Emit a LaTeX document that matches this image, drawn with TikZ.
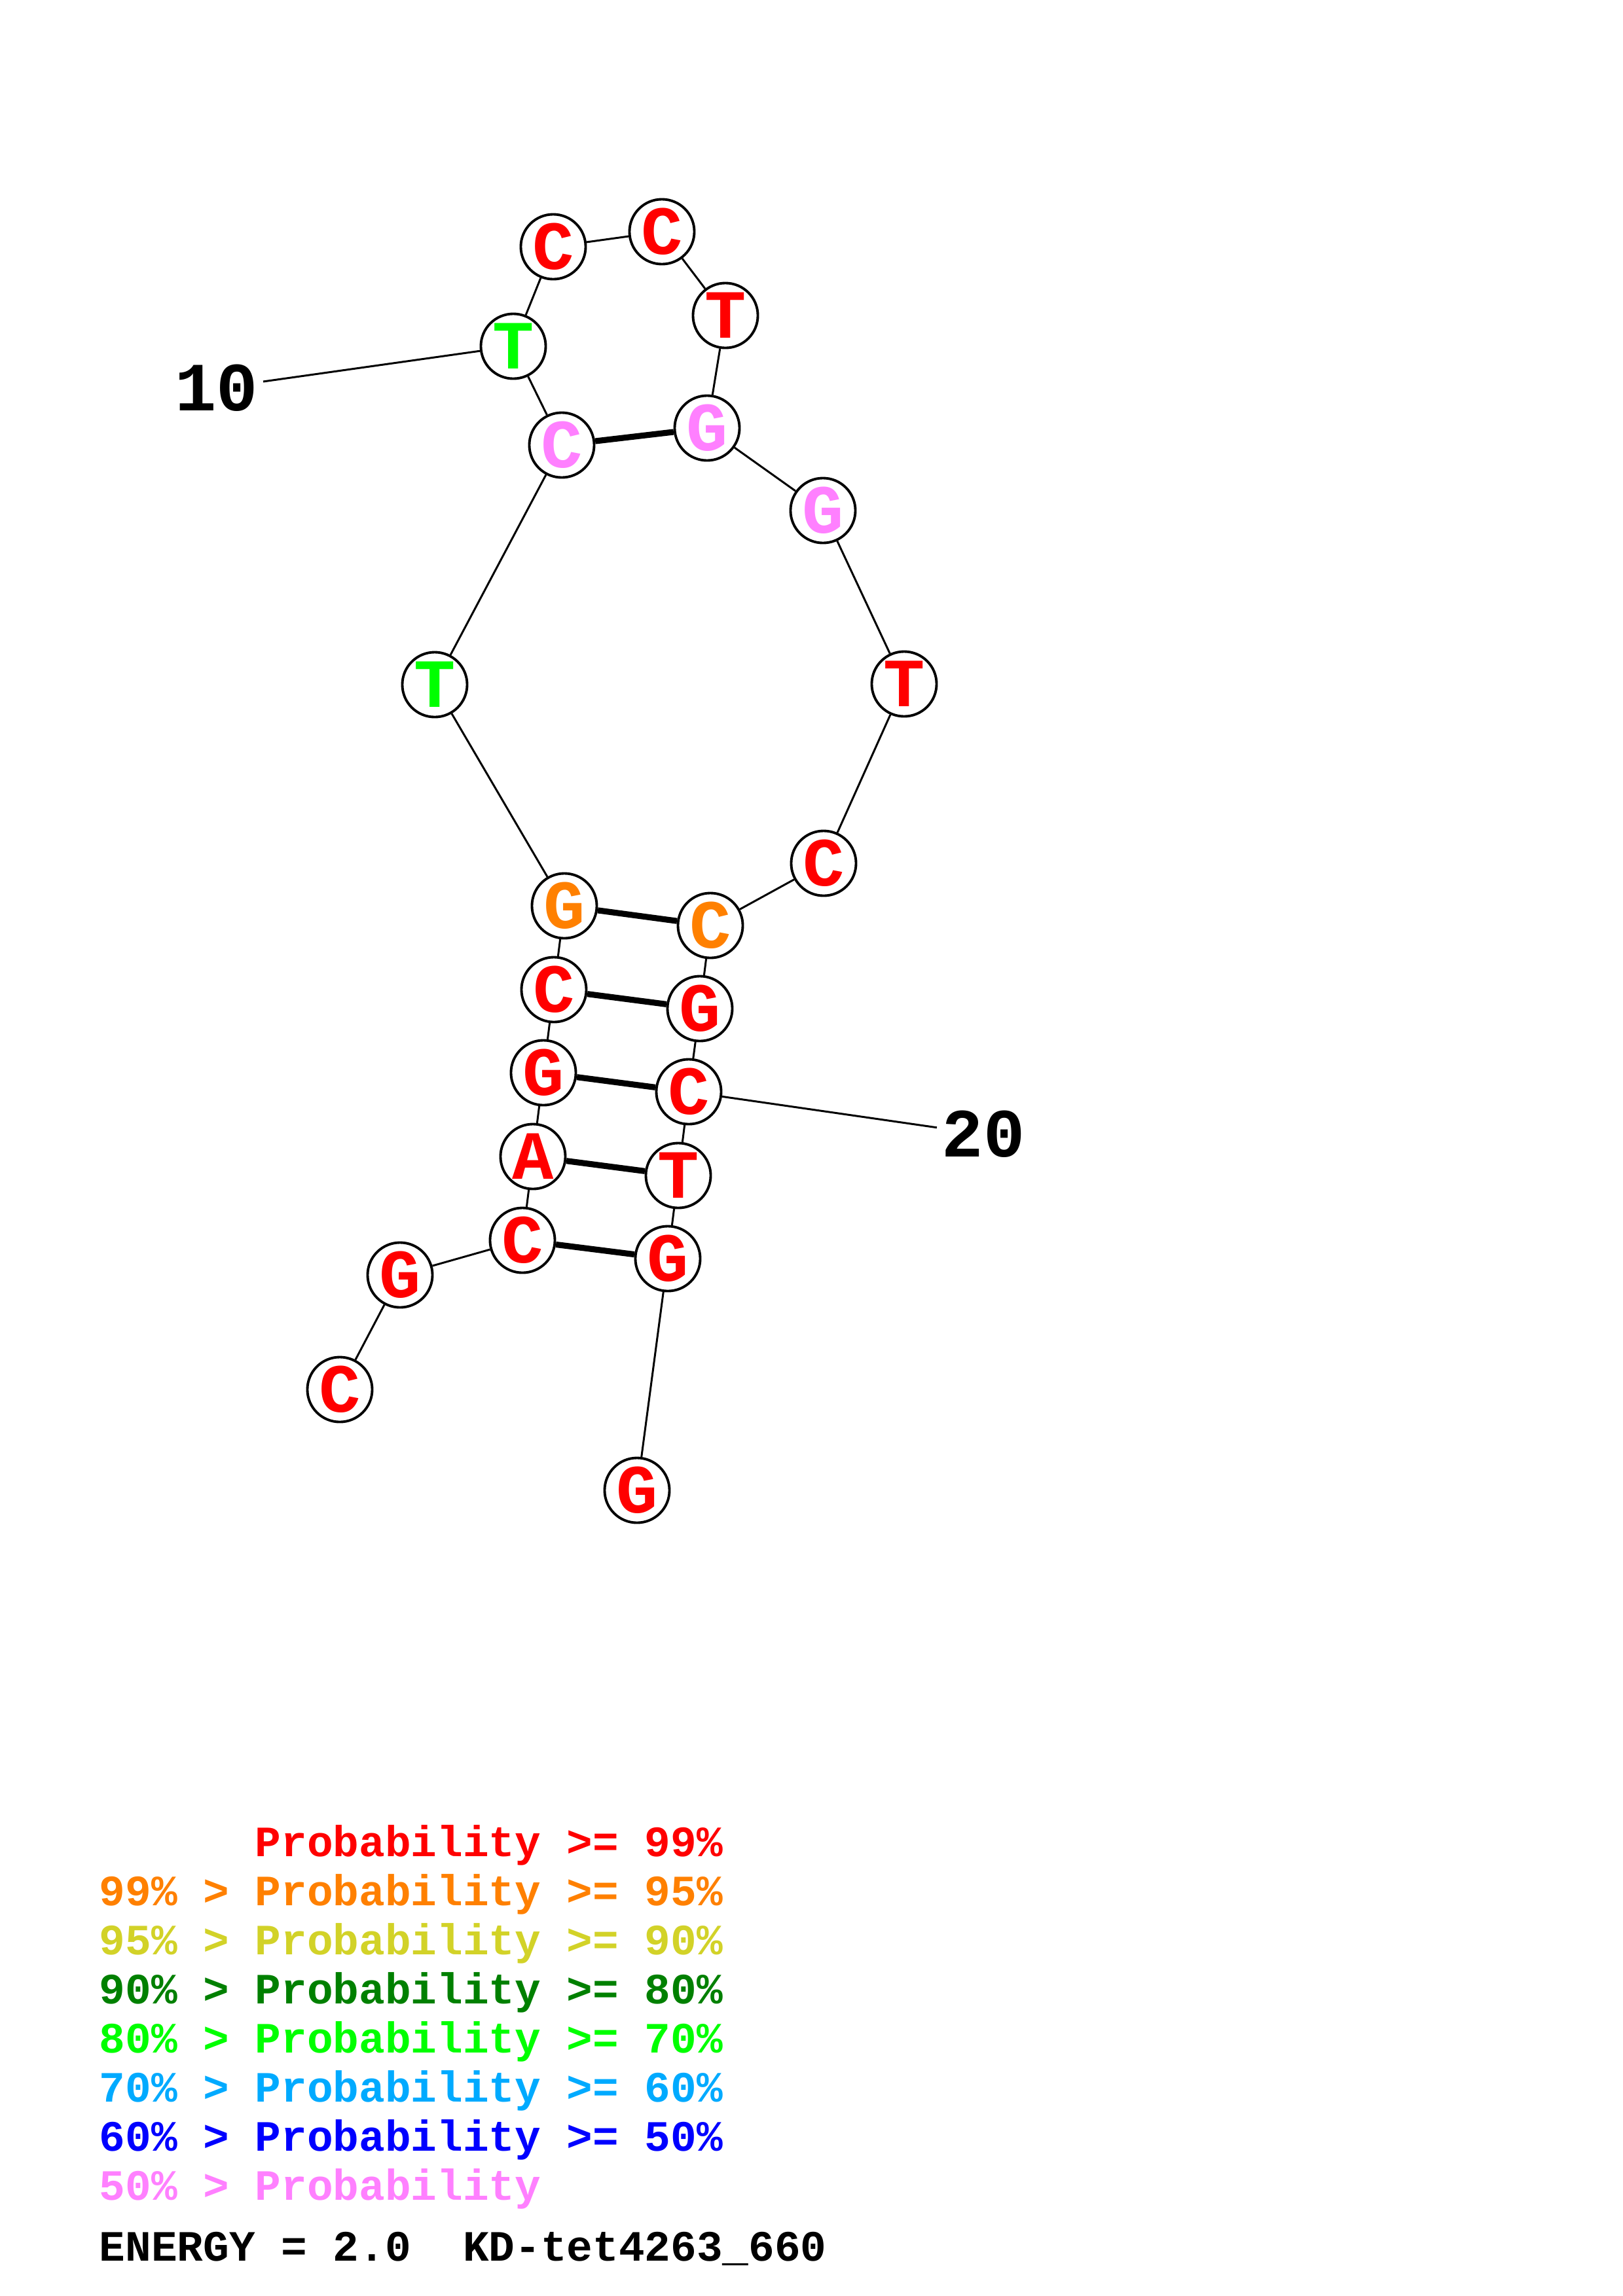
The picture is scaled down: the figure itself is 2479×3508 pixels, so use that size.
\documentclass[tikz,border=0pt]{standalone}
\usepackage{fontspec}
\setmonofont{Liberation Mono}
\definecolor{pr}{RGB}{255,0,0}
\definecolor{po}{RGB}{255,128,0}
\definecolor{py}{RGB}{210,210,40}
\definecolor{pdg}{RGB}{0,128,0}
\definecolor{plg}{RGB}{0,255,0}
\definecolor{psb}{RGB}{0,170,255}
\definecolor{pb}{RGB}{0,0,255}
\definecolor{pp}{RGB}{255,128,255}
\newcommand\basefont{\fontsize{30}{30}\selectfont\ttfamily\bfseries}
\newcommand\legfont{\fontsize{18.8}{18.8}\selectfont\ttfamily\bfseries}
\begin{document}
\begin{tikzpicture}[x=0.01cm,y=-0.01cm,
  base/.style={circle,draw=black,line width=1.1pt,fill=white,minimum size=0.99cm,inner sep=0pt,font=\basefont},
  bb/.style={line width=0.85pt},
  pair/.style={line width=2.6pt},
  numlab/.style={font=\basefont,inner sep=2pt},
  leg/.style={anchor=base west,font=\legfont,inner sep=0pt}]
\useasboundingbox (0,0) rectangle (2479,3508);
\node[base,text=pr]  (n1)  at (519,2123) {C};
\node[base,text=pr]  (n2)  at (611,1948) {G};
\node[base,text=pr]  (n3)  at (798,1895) {C};
\node[base,text=pr]  (n4)  at (814,1767) {A};
\node[base,text=pr]  (n5)  at (830,1639) {G};
\node[base,text=pr]  (n6)  at (846,1512) {C};
\node[base,text=po]  (n7)  at (862,1384) {G};
\node[base,text=plg] (n8)  at (664,1046) {T};
\node[base,text=pp]  (n9)  at (858,680) {C};
\node[base,text=plg] (n10) at (784,529) {T};
\node[base,text=pr]  (n11) at (845,377) {C};
\node[base,text=pr]  (n12) at (1011,354) {C};
\node[base,text=pr]  (n13) at (1108,482) {T};
\node[base,text=pp]  (n14) at (1080,654) {G};
\node[base,text=pp]  (n15) at (1257,780) {G};
\node[base,text=pr]  (n16) at (1381,1045) {T};
\node[base,text=pr]  (n17) at (1258,1319) {C};
\node[base,text=po]  (n18) at (1085,1414) {C};
\node[base,text=pr]  (n19) at (1069,1541) {G};
\node[base,text=pr]  (n20) at (1052,1668) {C};
\node[base,text=pr]  (n21) at (1036,1796) {T};
\node[base,text=pr]  (n22) at (1020,1923) {G};
\node[base,text=pr]  (n23) at (973,2277) {G};
\node[numlab] (l10) at (331,593) {10};
\node[numlab] (l20) at (1502,1733) {20};
\foreach \a/\b in {n1/n2,n2/n3,n3/n4,n4/n5,n5/n6,n6/n7,n7/n8,n8/n9,n9/n10,n10/n11,n11/n12,n12/n13,n13/n14,n14/n15,n15/n16,n16/n17,n17/n18,n18/n19,n19/n20,n20/n21,n21/n22,n22/n23}
  \draw[bb] (\a) -- (\b);
\foreach \a/\b in {n3/n22,n4/n21,n5/n20,n6/n19,n7/n18,n9/n14}
  \draw[pair] (\a) -- (\b);
\draw[bb] (n10) -- (l10);
\draw[bb] (n20) -- (l20);
\node[leg,text=pr]  (g1) at (151,2836) {\phantom{99\% > }Probability >= 99\%};
\node[leg,text=po]  (g2) at (151,2911) {99\% > Probability >= 95\%};
\node[leg,text=py]  (g3) at (151,2986) {95\% > Probability >= 90\%};
\node[leg,text=pdg] (g4) at (151,3061) {90\% > Probability >= 80\%};
\node[leg,text=plg] (g5) at (151,3136) {80\% > Probability >= 70\%};
\node[leg,text=psb] (g6) at (151,3211) {70\% > Probability >= 60\%};
\node[leg,text=pb]  (g7) at (151,3286) {60\% > Probability >= 50\%};
\node[leg,text=pp]  (g8) at (151,3361) {50\% > Probability};
\node[leg,text=black] (en) at (151,3454) {ENERGY = 2.0\ \ KD-tet4263\_660};
\end{tikzpicture}
\end{document}
